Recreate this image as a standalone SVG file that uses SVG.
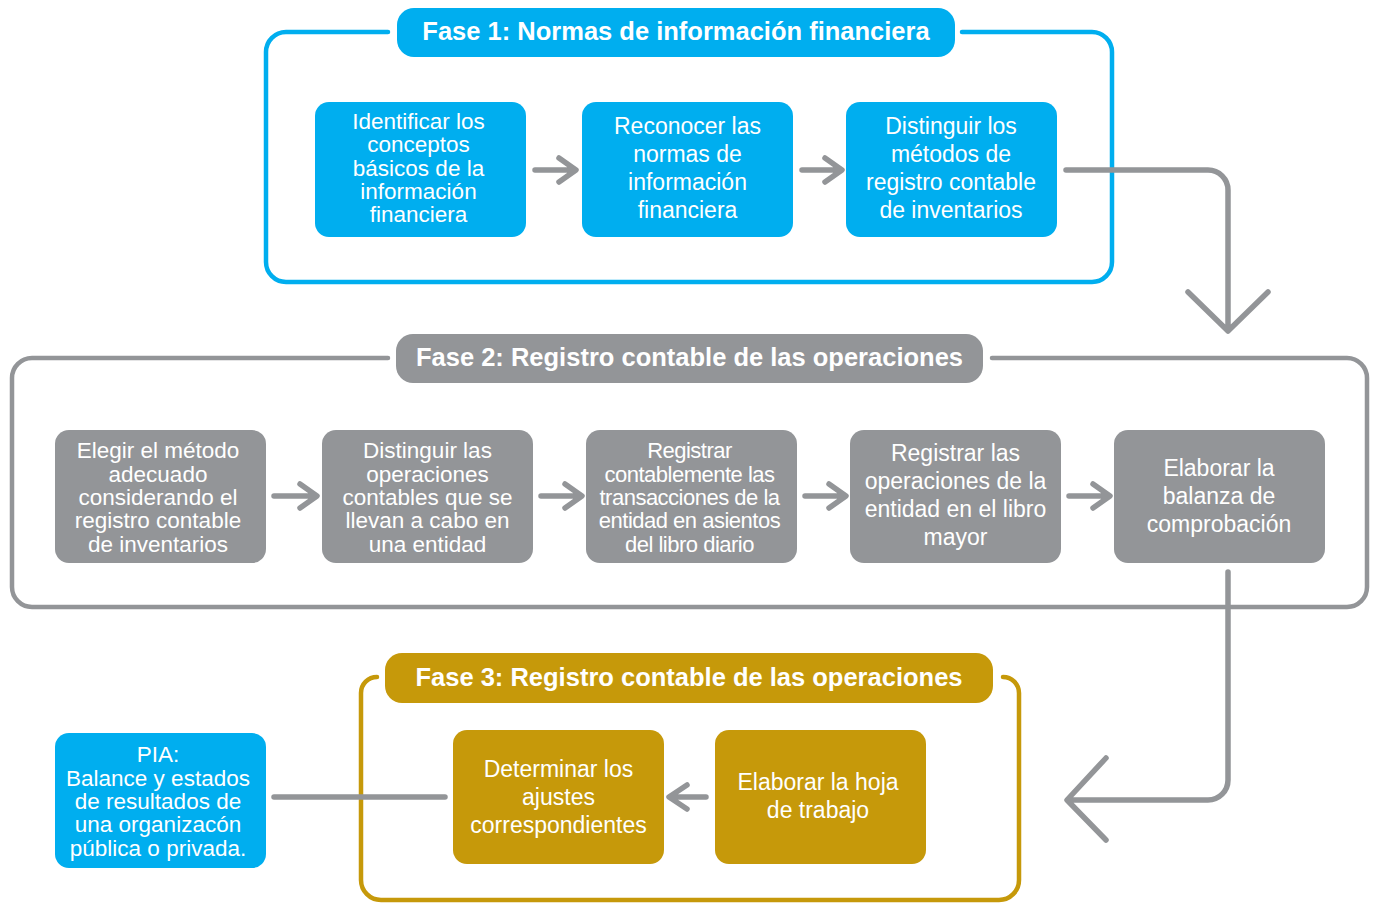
<svg xmlns="http://www.w3.org/2000/svg" width="1375" height="903" viewBox="0 0 1375 903">
<style>
.frame{fill:none;stroke-width:4.5;stroke-linecap:round}
.f1{stroke:#00AEEF}.f2{stroke:#939598}.f3{stroke:#C6990A}
.blue{fill:#00AEEF}.gray{fill:#939598}.gold{fill:#C6990A}
.title{font-family:"Liberation Sans",Arial,sans-serif;font-weight:bold;font-size:25.5px;fill:#fff;text-anchor:middle}
.t{font-family:"Liberation Sans",Arial,sans-serif;font-size:23px;fill:#fff;text-anchor:middle}
.td{font-family:"Liberation Sans",Arial,sans-serif;font-size:22.5px;fill:#fff;text-anchor:middle}
.tc{font-family:"Liberation Sans",Arial,sans-serif;font-size:22px;letter-spacing:-0.5px;fill:#fff;text-anchor:middle}
.con{fill:none;stroke:#939598;stroke-width:5.5;stroke-linecap:round;stroke-linejoin:round}
</style>
<rect width="1375" height="903" fill="#fff"/>
<g id="fase1">
<path class="frame f1" d="M388,32 H286 A20,20 0 0 0 266,52 V262 A20,20 0 0 0 286,282 H1092 A20,20 0 0 0 1112,262 V52 A20,20 0 0 0 1092,32 H962"/>
<rect class="blue" x="397" y="8" width="558" height="49" rx="17"/>
<text class="title" x="676" y="40">Fase 1: Normas de información financiera</text>
</g>
<g id="fase2">
<path class="frame f2" d="M388,358 H32 A20,20 0 0 0 12,378 V587 A20,20 0 0 0 32,607 H1347 A20,20 0 0 0 1367,587 V378 A20,20 0 0 0 1347,358 H992"/>
<rect class="gray" x="396" y="334" width="587" height="49" rx="17"/>
<text class="title" x="689.5" y="366">Fase 2: Registro contable de las operaciones</text>
</g>
<g id="fase3">
<path class="frame f3" d="M377,677 A16,16 0 0 0 361,693 V880 A20,20 0 0 0 381,900 H999 A20,20 0 0 0 1019,880 V693 A16,16 0 0 0 1003,677"/>
<rect class="gold" x="385" y="653" width="608" height="50" rx="17"/>
<text class="title" x="689" y="686">Fase 3: Registro contable de las operaciones</text>
</g>
<g id="connectors">
<path class="con" d="M535,170 H575 M559,158 L576,170 L559,182"/>
<path class="con" d="M802,170 H841 M825,158 L842,170 L825,182"/>
<path class="con" d="M1066,170 H1208 A20,20 0 0 1 1228,190 V331 M1188,292 L1228,331 L1268,292"/>
<path class="con" d="M274,496 H316 M300,484 L317,496 L300,508"/>
<path class="con" d="M541,496 H581 M565,484 L582,496 L565,508"/>
<path class="con" d="M805,496 H845 M829,484 L846,496 L829,508"/>
<path class="con" d="M1069,496 H1109 M1093,484 L1110,496 L1093,508"/>
<path class="con" d="M1228,572 V780 A20,20 0 0 1 1208,800 H1068 M1106,758 L1067,800 L1106,840"/>
<path class="con" d="M706,797 H670 M687,785 L669,797 L687,809"/>
<path class="con" d="M274,797 H445" stroke-linecap="butt"/>
</g>
<g id="n1">
<rect class="blue" x="315" y="102" width="211" height="135" rx="14"/>
<text class="td"><tspan x="418.5" y="129">Identificar los</tspan><tspan x="418.5" y="152">conceptos</tspan><tspan x="418.5" y="176">básicos de la</tspan><tspan x="418.5" y="199">información</tspan><tspan x="418.5" y="222">financiera</tspan></text>
</g>
<g id="n2">
<rect class="blue" x="582" y="102" width="211" height="135" rx="14"/>
<text class="t"><tspan x="687.5" y="134">Reconocer las</tspan><tspan x="687.5" y="162">normas de</tspan><tspan x="687.5" y="190">información</tspan><tspan x="687.5" y="218">financiera</tspan></text>
</g>
<g id="n3">
<rect class="blue" x="846" y="102" width="211" height="135" rx="14"/>
<text class="t"><tspan x="951" y="134">Distinguir los</tspan><tspan x="951" y="162">métodos de</tspan><tspan x="951" y="190">registro contable</tspan><tspan x="951" y="218">de inventarios</tspan></text>
</g>
<g id="n4">
<rect class="gray" x="55" y="430" width="211" height="133" rx="14"/>
<text class="td"><tspan x="158" y="458">Elegir el método</tspan><tspan x="158" y="482">adecuado</tspan><tspan x="158" y="505">considerando el</tspan><tspan x="158" y="528">registro contable</tspan><tspan x="158" y="552">de inventarios</tspan></text>
</g>
<g id="n5">
<rect class="gray" x="322" y="430" width="211" height="133" rx="14"/>
<text class="td"><tspan x="427.5" y="458">Distinguir las</tspan><tspan x="427.5" y="482">operaciones</tspan><tspan x="427.5" y="505">contables que se</tspan><tspan x="427.5" y="528">llevan a cabo en</tspan><tspan x="427.5" y="552">una entidad</tspan></text>
</g>
<g id="n6">
<rect class="gray" x="586" y="430" width="211" height="133" rx="14"/>
<text class="tc"><tspan x="689.5" y="458">Registrar</tspan><tspan x="689.5" y="482">contablemente las</tspan><tspan x="689.5" y="505">transacciones de la</tspan><tspan x="689.5" y="528">entidad en asientos</tspan><tspan x="689.5" y="552">del libro diario</tspan></text>
</g>
<g id="n7">
<rect class="gray" x="850" y="430" width="211" height="133" rx="14"/>
<text class="t"><tspan x="955.5" y="461">Registrar las</tspan><tspan x="955.5" y="489">operaciones de la</tspan><tspan x="955.5" y="517">entidad en el libro</tspan><tspan x="955.5" y="545">mayor</tspan></text>
</g>
<g id="n8">
<rect class="gray" x="1114" y="430" width="211" height="133" rx="14"/>
<text class="t"><tspan x="1219" y="476">Elaborar la</tspan><tspan x="1219" y="504">balanza de</tspan><tspan x="1219" y="532">comprobación</tspan></text>
</g>
<g id="n9">
<rect class="gold" x="715" y="730" width="211" height="134" rx="14"/>
<text class="t"><tspan x="818" y="790">Elaborar la hoja</tspan><tspan x="818" y="818">de trabajo</tspan></text>
</g>
<g id="n10">
<rect class="gold" x="453" y="730" width="211" height="134" rx="14"/>
<text class="t"><tspan x="558.5" y="777">Determinar los</tspan><tspan x="558.5" y="805">ajustes</tspan><tspan x="558.5" y="833">correspondientes</tspan></text>
</g>
<g id="pia">
<rect class="blue" x="55" y="733" width="211" height="135" rx="14"/>
<text class="td"><tspan x="158" y="762">PIA:</tspan><tspan x="158" y="786">Balance y estados</tspan><tspan x="158" y="809">de resultados de</tspan><tspan x="158" y="832">una organizacón</tspan><tspan x="158" y="856">pública o privada.</tspan></text>
</g>
</svg>
